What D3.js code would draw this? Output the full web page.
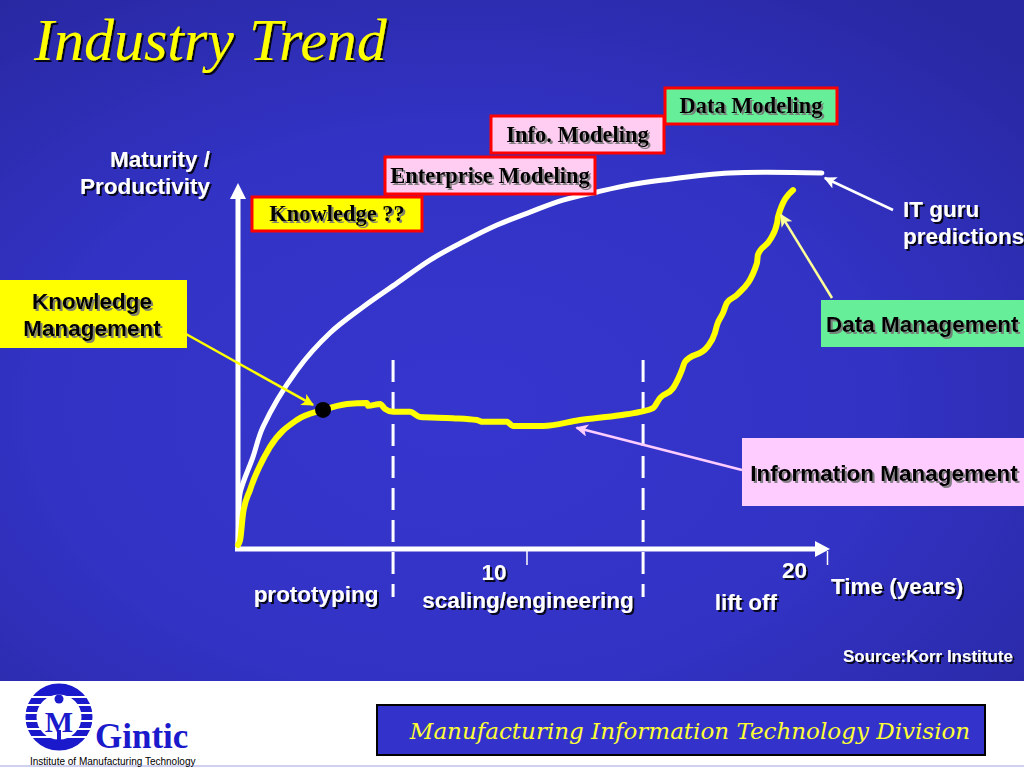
<!DOCTYPE html>
<html><head><meta charset="utf-8">
<script src="https://cdn.jsdelivr.net/npm/d3@7"></script>
<style>html,body{margin:0;padding:0;background:#fff;overflow:hidden}svg{display:block}</style>
</head><body>
<svg id="c" width="1024" height="768"></svg>
<script>
// ---------------- data ----------------
const title = "Industry Trend";
const yAxisTitle = ["Maturity /", "Productivity"];
const xAxisTitle = "Time (years)";
const xTickValues = [10, 20];
const phaseLabels = ["prototyping", "scaling/engineering", "lift off"];
const phaseBoundaries = [5.56, 13.88];           // years
const guruYears  = [0.40, 0.43, 0.47, 0.90, 1.23, 2.36, 3.46, 4.56, 5.69, 6.79, 7.89, 9.02, 10.12, 11.21, 12.35, 13.44, 14.54, 16.77, 19.83];
const guruValues = [0,    8,    14.0, 23.7, 31.7, 47.0, 57.0, 64.0, 70.4, 76.6, 81.5, 86.0, 89.5,  92.7,  94.9,  96.8,  98.1,  100,   100];
const actualYears  = [0.40, 0.47, 0.57, 0.80, 1.46, 2.36, 3.23, 4.03, 4.69, 4.73, 5.13, 5.29, 5.56, 6.12, 6.46, 7.55, 8.35, 8.55, 9.35, 9.55, 10.55, 11.78, 13.11, 13.78, 14.21, 14.44, 14.88, 15.17, 15.27, 16.01, 16.27, 16.34, 16.54, 16.67, 17.00, 17.67, 17.70, 18.10, 18.34, 18.37, 18.87];
const actualValues = [0,    1.3,  8.6,  14.8, 26.3, 33.6, 36.3, 37.9, 38.2, 37.4, 37.9, 36.6, 35.8, 35.8, 34.4, 34.1, 33.6, 33.1, 33.1, 32.0, 32.0,  33.6,  34.9,  35.8,  36.8,  39.5,  42.2,  47.0,  49.2,  53.2,  57.0,  59.1,  62.4,  65.1,  67.2,  75.8,  78.0,  82.0,  86.6,  88.2,  95.4];
const knowledgePoint = [3.23, 36.3];
const modelingLabels = ["Knowledge ??", "Enterprise Modeling", "Info. Modeling", "Data Modeling"];
const calloutLabels = ["Knowledge Management", "Data Management", "Information Management", "IT guru predictions"];
const sourceText = "Source:Korr Institute";
const footerText = "Manufacturing Information Technology Division";
const logoName = "Gintic";
const logoSub = "Institute of Manufacturing Technology";

// ---------------- drawing ----------------
const svg = d3.select("#c");
const SANS = "'Liberation Sans', Arial, sans-serif";
const SERIF = "'Liberation Serif', 'Times New Roman', serif";
const FS = 22.5;

const defs = svg.append("defs");
const bg = defs.append("radialGradient").attr("id","bg").attr("cx","45%").attr("cy","60%").attr("r","75%");
bg.append("stop").attr("offset","0%").attr("stop-color","#3636cf");
bg.append("stop").attr("offset","55%").attr("stop-color","#3232c4");
bg.append("stop").attr("offset","100%").attr("stop-color","#2828a2");
const sh = defs.append("filter").attr("id","sh").attr("x","-10%").attr("y","-20%").attr("width","130%").attr("height","160%");
sh.append("feDropShadow").attr("dx",2).attr("dy",2).attr("stdDeviation",0.6).attr("flood-color","#000").attr("flood-opacity",0.85);
const shg = defs.append("filter").attr("id","shg").attr("x","-10%").attr("y","-20%").attr("width","130%").attr("height","160%");
shg.append("feDropShadow").attr("dx",2).attr("dy",2).attr("stdDeviation",0.6).attr("flood-color","#777").attr("flood-opacity",0.9);

function marker(id, color){
  defs.append("marker").attr("id",id).attr("viewBox","0 0 10 10").attr("refX",9).attr("refY",5)
    .attr("markerWidth",5).attr("markerHeight",5).attr("orient","auto")
    .append("path").attr("d","M0,0 L10,5 L0,10 L2.5,5 Z").attr("fill",color);
}
marker("mY","#ffff00"); marker("mW","#ffffff"); marker("mLY","#ffff99"); marker("mP","#ffccff");

// background
svg.append("rect").attr("width",1024).attr("height",682).attr("fill","url(#bg)");
svg.append("rect").attr("y",681).attr("width",1024).attr("height",87).attr("fill","#ffffff");
svg.append("rect").attr("y",765).attr("width",1024).attr("height",2).attr("fill","#d0d0f0");

// title
svg.append("text").attr("x",34).attr("y",60).text(title)
  .attr("font-family",SERIF).attr("font-style","italic").attr("font-size",60)
  .attr("fill","#ffff00").attr("filter","url(#sh)");

// scales
const x = d3.scaleLinear().domain([0.4, 20]).range([238, 827]);
const y = d3.scaleLinear().domain([0, 100]).range([545, 173]);

// axes
const ax = svg.append("g").attr("transform","translate(0,551)")
  .call(d3.axisBottom(x).tickValues(xTickValues).tickSize(14).tickSizeOuter(0).tickFormat(d3.format("d")));
ax.select(".domain").remove();
ax.selectAll(".tick line").attr("stroke","#fff").attr("stroke-width",1.5);
ax.selectAll(".tick text").attr("fill","#fff").attr("font-family",SANS).attr("font-weight","bold")
  .attr("font-size",FS).attr("dx",-33).attr("dy",d=>d===10?12:10).attr("filter","url(#sh)");

svg.append("line").attr("x1",238).attr("x2",238).attr("y1",551).attr("y2",196).attr("stroke","#fff").attr("stroke-width",5);
svg.append("path").attr("d","M230,199 L246,199 L238,183 Z").attr("fill","#fff");
svg.append("line").attr("x1",235).attr("x2",817).attr("y1",549).attr("y2",549).attr("stroke","#fff").attr("stroke-width",5);
svg.append("path").attr("d","M815,541 L815,557 L830,549 Z").attr("fill","#fff");

// phase dashed lines
svg.selectAll("line.phase").data(phaseBoundaries).enter().append("line")
  .attr("x1",d=>x(d)).attr("x2",d=>x(d)).attr("y1",360).attr("y2",597)
  .attr("stroke","#fff").attr("stroke-width",3).attr("stroke-dasharray","22,10");

// curves
const guru = guruYears.map((t,i)=>[t, guruValues[i]]);
const actual = actualYears.map((t,i)=>[t, actualValues[i]]);
const smooth = d3.line().x(d=>x(d[0])).y(d=>y(d[1])).curve(d3.curveCatmullRom.alpha(0.5));
const rough = d3.line().x(d=>x(d[0])).y(d=>y(d[1])).curve(d3.curveMonotoneX);
svg.append("path").attr("d",smooth(guru)).attr("fill","none").attr("stroke","#fff").attr("stroke-width",5).attr("stroke-linecap","round");
svg.append("path").attr("d",rough(actual)).attr("fill","none").attr("stroke","#ffff00").attr("stroke-width",6).attr("stroke-linecap","round").attr("stroke-linejoin","round");
svg.append("circle").attr("cx",x(knowledgePoint[0])).attr("cy",y(knowledgePoint[1])).attr("r",8).attr("fill","#000");

// white labels
function wtext(txt, xx, yy, anchor, size){
  return svg.append("text").attr("x",xx).attr("y",yy).text(txt).attr("text-anchor",anchor||"start")
    .attr("font-family",SANS).attr("font-weight","bold").attr("font-size",size||FS)
    .attr("fill","#fff").attr("filter","url(#sh)");
}
wtext(yAxisTitle[0], 210, 167, "end");
wtext(yAxisTitle[1], 210, 194, "end");
const phaseCenters = [3.0, 10.05, 17.3];
const phaseBaselines = [602, 608, 610];
phaseLabels.forEach((p,i)=>wtext(p, x(phaseCenters[i]), phaseBaselines[i], "middle"));
wtext(xAxisTitle, 831, 594, "start");
wtext(sourceText, 1013, 662, "end", 17);
wtext("IT guru", 903, 217, "start");
wtext("predictions", 903, 244, "start");

// modeling boxes (red border)
const modelBoxes = [
  {x:252, y:197, w:170, h:34, fill:"#ffff00"},
  {x:385, y:157, w:210, h:37, fill:"#ffccf2"},
  {x:491, y:116, w:173, h:37, fill:"#ffccf2"},
  {x:665, y:88,  w:172, h:36, fill:"#66ee99"}
];
modelingLabels.forEach((lab,i)=>{
  const b = modelBoxes[i];
  svg.append("rect").attr("x",b.x).attr("y",b.y).attr("width",b.w).attr("height",b.h)
    .attr("fill",b.fill).attr("stroke","#ff0000").attr("stroke-width",3);
  svg.append("text").attr("x",b.x+b.w/2).attr("y",b.y+b.h/2+7).attr("text-anchor","middle").text(lab)
    .attr("font-family",SERIF).attr("font-weight","bold").attr("font-size",FS)
    .attr("fill","#000").attr("filter","url(#shg)");
});

// callout boxes
function btext(txt, xx, yy, anchor){
  svg.append("text").attr("x",xx).attr("y",yy).attr("text-anchor",anchor).text(txt)
    .attr("font-family",SANS).attr("font-weight","bold").attr("font-size",FS)
    .attr("fill","#000").attr("filter","url(#shg)");
}
svg.append("rect").attr("x",0).attr("y",280).attr("width",187).attr("height",68).attr("fill","#ffff00");
btext("Knowledge", 92, 309, "middle");
btext("Management", 92, 336, "middle");
svg.append("rect").attr("x",821).attr("y",300).attr("width",203).attr("height",47).attr("fill","#66ee99");
btext(calloutLabels[1], 826, 332, "start");
svg.append("rect").attr("x",742).attr("y",438).attr("width",282).attr("height",68).attr("fill","#ffccff");
btext(calloutLabels[2], 884, 481, "middle");

// callout arrows
function arrow(x1,y1,x2,y2,color,m){
  svg.append("line").attr("x1",x1).attr("y1",y1).attr("x2",x2).attr("y2",y2)
    .attr("stroke",color).attr("stroke-width",2.5).attr("marker-end",`url(#${m})`);
}
arrow(186, 334, x(knowledgePoint[0])-10, y(knowledgePoint[1])-5, "#ffff00", "mY");
arrow(893, 210, x(guruYears[guruYears.length-1])+3, y(guruValues[guruValues.length-1])+5, "#ffffff", "mW");
arrow(832, 298, x(18.37)+3, y(88.2)-2, "#ffff99", "mLY");
arrow(742, 470, x(11.6)+2, y(33.4)+7, "#ffccff", "mP");

// footer
const fb = svg.append("g");
fb.append("rect").attr("x",377).attr("y",705).attr("width",608).attr("height",50).attr("fill","#3333cc").attr("stroke","#000").attr("stroke-width",2);
fb.append("text").attr("x",690).attr("y",739).attr("text-anchor","middle").text(footerText)
  .attr("font-family","'DejaVu Serif', serif").attr("font-style","italic").attr("font-size",23).attr("fill","#ffff33");

// logo
const lg = svg.append("g");
const blue = "#1a1acc";
lg.append("circle").attr("cx",59).attr("cy",717).attr("r",28).attr("fill","none").attr("stroke",blue).attr("stroke-width",11);
[-20,-12,-4,4,12,20].forEach(o=>{
  lg.append("line").attr("x1",25).attr("x2",93).attr("y1",717+o).attr("y2",717+o).attr("stroke","#fff").attr("stroke-width",2);
});
lg.append("text").attr("x",59).attr("y",732).attr("text-anchor","middle").text("M")
  .attr("font-family",SERIF).attr("font-weight","bold").attr("font-size",30).attr("fill",blue);
lg.append("circle").attr("cx",59).attr("cy",699).attr("r",4.5).attr("fill",blue);
lg.append("rect").attr("x",57).attr("y",730).attr("width",4).attr("height",14).attr("fill",blue);
lg.append("text").attr("x",95).attr("y",748).text(logoName)
  .attr("font-family",SERIF).attr("font-weight","bold").attr("font-size",35).attr("fill",blue);
lg.append("text").attr("x",30).attr("y",765).text(logoSub)
  .attr("font-family",SANS).attr("font-size",10).attr("fill","#000");
</script>
</body></html>
